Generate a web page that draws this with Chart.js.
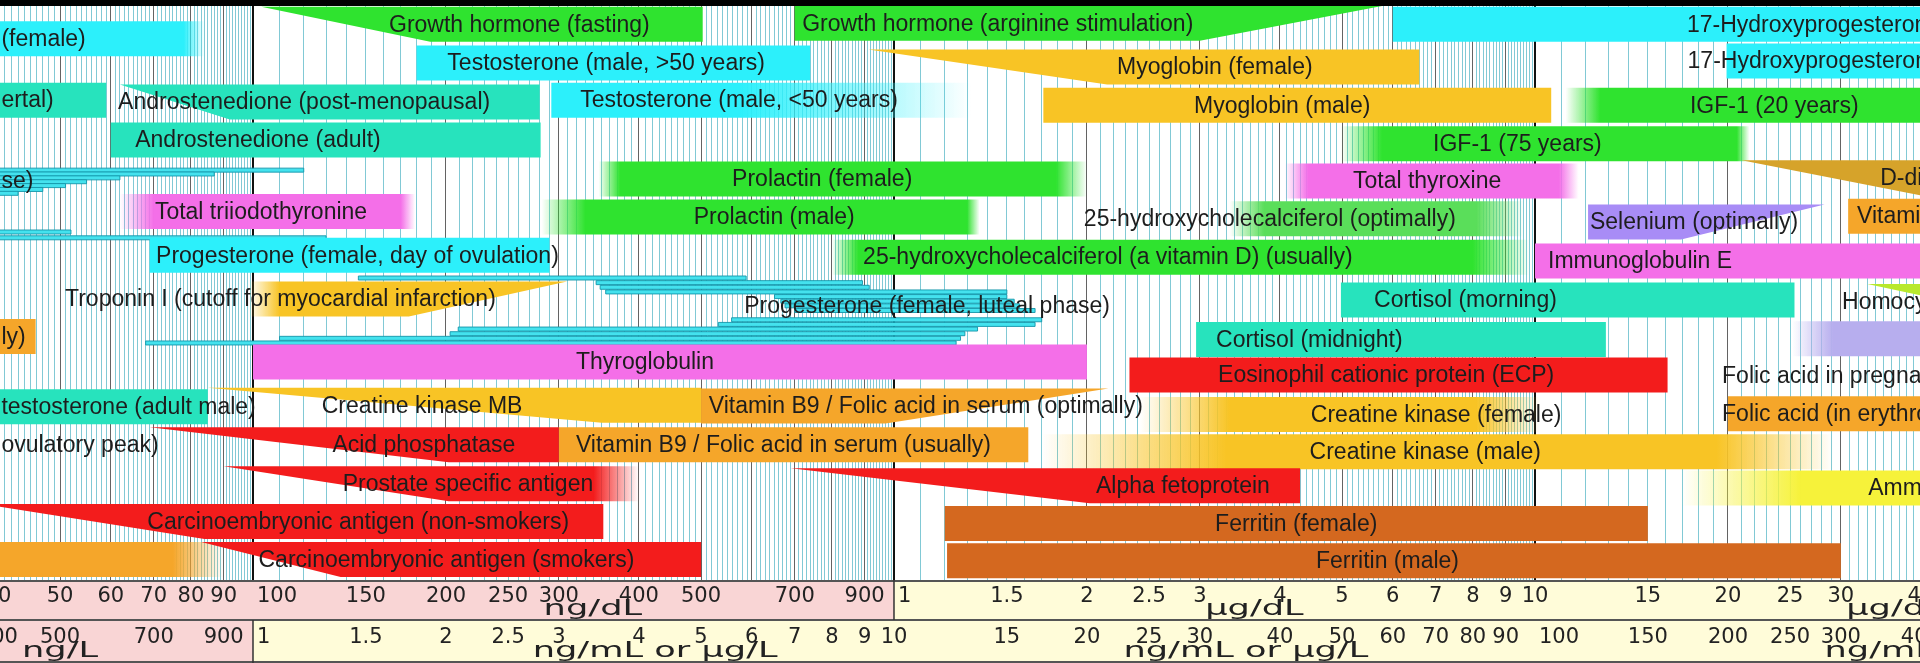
<!DOCTYPE html>
<html>
<head>
<meta charset="utf-8">
<title>Reference ranges for blood tests</title>
<script src="https://cdn.jsdelivr.net/npm/chart.js@4.4.1/dist/chart.umd.min.js"></script>
<style>
  html, body { margin: 0; padding: 0; background: #fff; }
  #wrap { position: relative; width: 1920px; height: 663px; }
</style>
</head>
<body>
<div id="wrap"><canvas id="ranges"></canvas></div>
<script>
'use strict';

// every value is in ng/dL  (1 ng/mL = 100 ng/dL, 1 µg/dL = 1000 ng/dL)
// lane: vertical slot, 0 = top of the plot, 15 = bottom
// [label, low, high, lane, label starts at, wedge full from, wedge full until, fade in until, fade out from]
const GREEN = [
    ['Growth hormone (fasting)', 103, 503, 0.63, 163, 189, null, null, null],
    ['Growth hormone (arginine stimulation)', 700, 5800, 0.6, 719, null, 3000, null, null],
    ['IGF-1 (20 years)', 11160, 80000, 2.72, 17450, null, null, 12640, null],
    ['IGF-1 (75 years)', 4980, 21600, 3.72, 6934, null, null, 5770, 20650],
    ['Prolactin (female)', 346, 2000, 4.63, 559, null, null, 374, 1790],
    ['Prolactin (male)', 282, 1360, 5.61, 487, null, null, 330, 1300],
    ['25-hydroxycholecalciferol (a vitamin D) (usually)', 800, 9800, 6.65, 895, null, null, 880, 8000]
];

const LIGHT_GREEN = [
    ['25-hydroxycholecalciferol (optimally)', 3340, 9600, 5.66, 1978, null, null, 3780, 8100]
];

const CYAN = [
    ['17-Hydroxyprogesterone (male)', 6000, 80000, 0.63, 17260],
    ['17-Hydroxyprogesterone (female)', 19900, 80000, 1.58, 17300],
    ['(female)', 15, 84, 1.0, 40.5, null, null, null, 78],
    ['Testosterone (male, >50 years)', 180, 740, 1.63, 201],
    ['Testosterone (male, <50 years)', 292, 1320, 2.59, 324, null, null, null, 575],
    ['Progesterone (female, day of ovulation)', 69, 290, 6.6, 70.6]
];

const TEAL = [
    ['ertal)', 15, 59, 2.59, 40.5],
    ['Androstenedione (post-menopausal)', 62, 280, 2.64, 61.6, 92],
    ['Androstenedione (adult)', 60, 281, 3.62, 65.5],
    ['Cortisol (morning)', 4980, 25400, 7.76, 5610],
    ['Cortisol (midnight)', 2960, 12900, 8.78, 3180],
    ['testosterone (adult male)', 15, 85, 10.52, 40.5]
];

const PINK = [
    ['Total triiodothyronine', 62, 179, 5.47, 70.3, null, null, 70, 170],
    ['Total thyroxine', 4070, 11700, 4.68, 5200, null, null, 4430, 10900],
    ['Thyroglobulin', 100, 2000, 9.36, 319],
    ['Immunoglobulin E', 10000, 80000, 6.75, 10480]
];

const GOLD = [
    ['Myoglobin (female)', 912, 6600, 1.73, 2228, 2150],
    ['Myoglobin (male)', 1710, 10600, 2.72, 2938],
    ['Troponin I (cutoff for myocardial infarction)', 98.6, 309, 7.73, 50.9, null, 175, 110, null],
    ['Creatine kinase MB', 85, 500, 10.48, 128, 350],
    ['Creatine kinase (female)', 2420, 10200, 10.72, 4470, null, null, 3340, 8100],
    ['Creatine kinase (male)', 1700, 29200, 11.68, 4450, null, null, 3300, 19200]
];

const ORANGE = [
    ['Vitamin B12', 30800, 80000, 5.59, 31790],
    ['ly)', 15, 45.8, 8.7, 40.5],
    ['Vitamin B9 / Folic acid in serum (optimally)', 500, 2160, 10.5, 514, null, 970],
    ['Folic acid (in erythrocytes)', 20000, 80000, 10.7, 19580],
    ['Vitamin B9 / Folic acid in serum (usually)', 300, 1620, 11.5, 319],
    ['', 15, 90, 14.47, null, null, null, null, 75]
];

const RED = [
    ['Eosinophil cationic protein (ECP)', 2330, 16100, 9.7, 3203],
    ['Acid phosphatase', 69, 300, 11.5, 133, 202],
    ['Prostate specific antigen', 90, 400, 12.51, 138, 202, null, null, 340],
    ['Alpha fetoprotein', 690, 4300, 12.56, 2066, 2020],
    ['Carcinoembryonic antigen (non-smokers)', 38, 352, 13.49, 68.4, 84],
    ['Carcinoembryonic antigen (smokers)', 83, 500, 14.47, 102, 137]
];

const FERRITIN = [
    ['Ferritin (female)', 1200, 15000, 13.54, 3169],
    ['Ferritin (male)', 1210, 30000, 14.5, 4552]
];

const D_DIMER = [
    ['D-dimer', 21000, 50000, 4.6, 34550, 40000]
];

const LAVENDER = [
    ['Selenium (optimally)', 12100, 28300, 5.74, 12180, null, 16900]
];

const PALE_LAVENDER = [
    ['', 25200, 80000, 8.76, null, null, null, 29200, null]
];

const YELLOW = [
    ['Ammonia', 16900, 80000, 12.62, 33100, null, null, 26000, null]
];

const LIME = [
    ['Homocysteine', 33000, 150000, 7.8, 30130, 60000]
];

// progesterone day-by-day ranges, thin strips: [low, high, lane]
const FOLLICULAR = [
    [10, 120, 4.4], [10, 87, 4.5], [10, 62, 4.6], [10, 55, 4.7], [10, 51, 4.8],
    [10, 47, 4.9], [10, 43, 5.0], [10, 52, 6.0], [10, 130, 6.15]
];
const LUTEAL = [
    [146, 588, 7.19], [343, 893, 7.31], [348, 915, 7.43], [355, 1500, 7.55],
    [651, 1500, 7.67], [666, 1540, 7.79], [676, 1570, 7.91], [700, 1660, 8.03],
    [558, 1700, 8.27], [532, 1660, 8.39], [209, 1350, 8.51], [203, 1290, 8.63],
    [110, 1270, 8.75], [68, 1250, 8.87]
];

// labels whose bars are off the picture or drawn as strips: [label, lane, starts at]
const LOOSE_LABELS = [
    ['se)', 4.68, 40.5],
    ['Progesterone (female, luteal phase)', 7.9, 584],
    ['Folic acid in pregnancy', 9.72, 19580],
    ['ovulatory peak)', 11.5, 40.5]
];

// the two unit rows under the plot
const NG_DL_TICKS = [40, 50, 60, 70, 80, 90, 100, 150, 200, 250, 300, 400, 500, 700, 900];
const UG_DL_TICKS = [1, 1.5, 2, 2.5, 3, 4, 5, 6, 7, 8, 9, 10, 15, 20, 25, 30, 40];
const NG_L_TICKS = [400, 500, 700, 900];
const NG_ML_TICKS = [1, 1.5, 2, 2.5, 3, 4, 5, 6, 7, 8, 9, 10, 15, 20, 25, 30, 40, 50, 60, 70, 80, 90,
    100, 150, 200, 250, 300, 400];
const TOP_UNITS = [['ng/dL', 339], ['µg/dL', 3650], ['µg/dL', 36500]];
const BOTTOM_UNITS = [['ng/L', 50], ['ng/mL or µg/L', 424], ['ng/mL or µg/L', 3540], ['ng/mL', 34500]];

const X_MIN = 40.3;
const X_MAX = 39870;

// vertical grid: a line every tenth of a step, darker on whole steps, black on decades
const GRID = [];
for (let d = 10; d <= 10000; d *= 10) {
    for (let k = 10; k < 100; k++) {
        const value = k * d / 10;
        if (value < X_MIN || value > X_MAX) continue;
        GRID.push({ value, kind: k === 10 ? 2 : (k % 10 === 0 ? 1 : 0) });
    }
}

function hexToRgb(hex) {
    const n = parseInt(hex.slice(1), 16);
    return [(n >> 16) & 255, (n >> 8) & 255, n & 255].join(',');
}

function rangeFill(ctx, rgb, x0, x1, fadeIn, fadeOut) {
    if (fadeIn == null && fadeOut == null) return `rgb(${rgb})`;
    const w = (x1 - x0) || 1;
    const clamp = v => Math.min(1, Math.max(0, v));
    const solid = `rgba(${rgb},1)`;
    const clear = `rgba(${rgb},0)`;
    const g = ctx.createLinearGradient(x0, 0, x1, 0);
    g.addColorStop(0, fadeIn == null ? solid : clear);
    g.addColorStop(fadeIn == null ? 0 : clamp((fadeIn - x0) / w), solid);
    g.addColorStop(fadeOut == null ? 1 : clamp((fadeOut - x0) / w), solid);
    g.addColorStop(1, fadeOut == null ? solid : clear);
    return g;
}

function rangeSet(rows, tint, thickness, edge) {
    return {
        data: rows.map(r => ({ x: [r[1], r[2]], y: r[3] })),
        rows: rows,
        tint: tint,
        edge: edge || null,
        barThickness: thickness || 35,
        grouped: false,
        backgroundColor: 'rgba(0,0,0,0)',
        borderWidth: 0
    };
}

const strips = rows => rows.map(([lo, hi, lane]) => ['', lo, hi, lane]);

// bars are laid out by Chart.js; this draws them with wedges and soft ends
const rangeShapes = {
    id: 'rangeShapes',
    afterDatasetsDraw(chart) {
        const { ctx, chartArea: area, scales: { x } } = chart;
        const px = v => (v == null ? null : x.getPixelForValue(v));
        ctx.save();
        ctx.beginPath();
        ctx.rect(area.left, area.top, area.right - area.left, area.bottom - area.top);
        ctx.clip();
        chart.data.datasets.forEach((ds, di) => {
            const rgb = hexToRgb(ds.tint);
            chart.getDatasetMeta(di).data.forEach((bar, i) => {
                const r = ds.rows[i];
                const x0 = Math.min(bar.base, bar.x);
                const x1 = Math.max(bar.base, bar.x);
                const top = bar.y - bar.height / 2;
                const bottom = bar.y + bar.height / 2;
                const wedgeIn = px(r[5]);
                const wedgeOut = px(r[6]);
                ctx.beginPath();
                ctx.moveTo(x0, top);
                ctx.lineTo(x1, top);
                ctx.lineTo(wedgeOut == null ? x1 : wedgeOut, bottom);
                ctx.lineTo(wedgeIn == null ? x0 : wedgeIn, bottom);
                ctx.closePath();
                ctx.fillStyle = rangeFill(ctx, rgb, x0, x1, px(r[7]), px(r[8]));
                ctx.fill();
                if (ds.edge) {
                    ctx.strokeStyle = ds.edge;
                    ctx.lineWidth = 1;
                    ctx.stroke();
                }
            });
        });
        ctx.restore();
    }
};

function stretchedText(ctx, text, cx, baseline) {
    ctx.save();
    ctx.translate(cx, baseline);
    ctx.scale(1.6, 1);
    ctx.textAlign = 'center';
    ctx.fillText(text, 0, 0);
    ctx.restore();
}

const rangeLabels = {
    id: 'rangeLabels',
    afterDraw(chart) {
        const { ctx, chartArea: area, scales: { x, y } } = chart;
        ctx.save();
        ctx.beginPath();
        ctx.rect(area.left, area.top, area.right - area.left, area.bottom - area.top);
        ctx.clip();
        ctx.font = '23px "Liberation Sans", Arial, sans-serif';
        ctx.fillStyle = '#1d1d1d';
        ctx.textBaseline = 'middle';
        ctx.textAlign = 'left';
        chart.data.datasets.forEach(ds => ds.rows.forEach(r => {
            if (r[0]) ctx.fillText(r[0], x.getPixelForValue(r[4]), y.getPixelForValue(r[3]) + 1);
        }));
        LOOSE_LABELS.forEach(([text, lane, at]) => {
            ctx.fillText(text, x.getPixelForValue(at), y.getPixelForValue(lane) + 1);
        });
        ctx.restore();

        // black strip along the top edge
        ctx.fillStyle = '#000';
        ctx.fillRect(0, 0, chart.width, 6);

        // unit bands
        const y0 = area.bottom;
        const y1 = area.bottom + 40;
        const y2 = chart.height;
        const split1 = x.getPixelForValue(1000);
        const split2 = x.getPixelForValue(100);
        ctx.fillStyle = '#f9d5d5';
        ctx.fillRect(area.left, y0, split1 - area.left, y1 - y0);
        ctx.fillRect(area.left, y1, split2 - area.left, y2 - y1);
        ctx.fillStyle = '#fffcd9';
        ctx.fillRect(split1, y0, area.right - split1, y1 - y0);
        ctx.fillRect(split2, y1, area.right - split2, y2 - y1);
        ctx.strokeStyle = '#555';
        ctx.lineWidth = 2;
        ctx.beginPath();
        ctx.moveTo(area.left, y0 + 1); ctx.lineTo(area.right, y0 + 1);
        ctx.moveTo(area.left, y1); ctx.lineTo(area.right, y1);
        ctx.moveTo(area.left, y2 - 1); ctx.lineTo(area.right, y2 - 1);
        ctx.stroke();
        ctx.strokeStyle = '#333';
        ctx.lineWidth = 1.5;
        ctx.beginPath();
        ctx.moveTo(split1, y0); ctx.lineTo(split1, y1);
        ctx.moveTo(split2, y1); ctx.lineTo(split2, y2);
        ctx.stroke();

        ctx.font = '21px "DejaVu Sans", sans-serif';
        ctx.fillStyle = '#222';
        ctx.textBaseline = 'alphabetic';
        const tick = (text, value, baseline) => {
            const p = x.getPixelForValue(value);
            if (text === '1' || text === '100') {
                ctx.textAlign = 'left';
                ctx.fillText(text, p + 4, baseline);
            } else {
                ctx.textAlign = 'center';
                ctx.fillText(text, p, baseline);
            }
        };
        NG_DL_TICKS.forEach(v => tick(String(v), v, y0 + 22));
        UG_DL_TICKS.forEach(v => tick(String(v), v * 1000, y0 + 22));
        NG_L_TICKS.forEach(v => tick(String(v), v / 10, y1 + 23));
        NG_ML_TICKS.forEach(v => tick(String(v), v * 100, y1 + 23));

        ctx.font = '22px "DejaVu Sans", sans-serif';
        TOP_UNITS.forEach(([text, at]) => stretchedText(ctx, text, x.getPixelForValue(at), y1 - 5));
        BOTTOM_UNITS.forEach(([text, at]) => stretchedText(ctx, text, x.getPixelForValue(at), y2 - 6));
    }
};

const datasets = [
    rangeSet(strips(FOLLICULAR), '#44e2ee', 4, 'rgba(20,150,170,0.9)'),
    rangeSet(strips(LUTEAL), '#44e2ee', 4, 'rgba(20,150,170,0.9)'),
    rangeSet(CYAN, '#2cf0fb'),
    rangeSet(TEAL, '#27e3bd'),
    rangeSet(GREEN, '#2fe32f'),
    rangeSet(LIGHT_GREEN, '#5ade5a'),
    rangeSet(PINK, '#f46fe8'),
    rangeSet(GOLD, '#f8c425'),
    rangeSet(ORANGE, '#f5a62a'),
    rangeSet(RED, '#f31c1c'),
    rangeSet(FERRITIN, '#d4681f'),
    rangeSet(D_DIMER, '#d6a32a'),
    rangeSet(LAVENDER, '#a88cf6'),
    rangeSet(PALE_LAVENDER, '#b7aeee'),
    rangeSet(YELLOW, '#f6f23a'),
    rangeSet(LIME, '#b8e92c')
];

new Chart(document.getElementById('ranges'), {
    type: 'bar',
    data: { datasets },
    plugins: [rangeShapes, rangeLabels],
    options: {
        indexAxis: 'y',
        responsive: true,
        maintainAspectRatio: false,
        devicePixelRatio: 1,
        animation: false,
        events: [],
        layout: { padding: { top: 0, left: 0, right: 0, bottom: 83 } },
        plugins: { legend: { display: false }, tooltip: { enabled: false } },
        scales: {
            x: {
                type: 'logarithmic',
                min: X_MIN,
                max: X_MAX,
                bounds: 'data',
                offset: false,
                z: 1,
                afterBuildTicks: scale => {
                    scale.ticks = GRID.map(g => ({ value: g.value, kind: g.kind }));
                },
                ticks: { display: false, autoSkip: false },
                border: { display: false },
                grid: {
                    drawTicks: false,
                    color: c => (c.tick.kind === 2 ? '#111' : c.tick.kind === 1 ? 'rgba(60,60,60,0.8)' : 'rgba(45,165,185,0.6)'),
                    lineWidth: c => (c.tick.kind === 2 ? 2 : 1)
                }
            },
            y: {
                type: 'linear',
                display: false,
                reverse: true,
                offset: false,
                min: 0,
                max: 15,
                bounds: 'data'
            }
        }
    }
});
</script>
</body>
</html>
